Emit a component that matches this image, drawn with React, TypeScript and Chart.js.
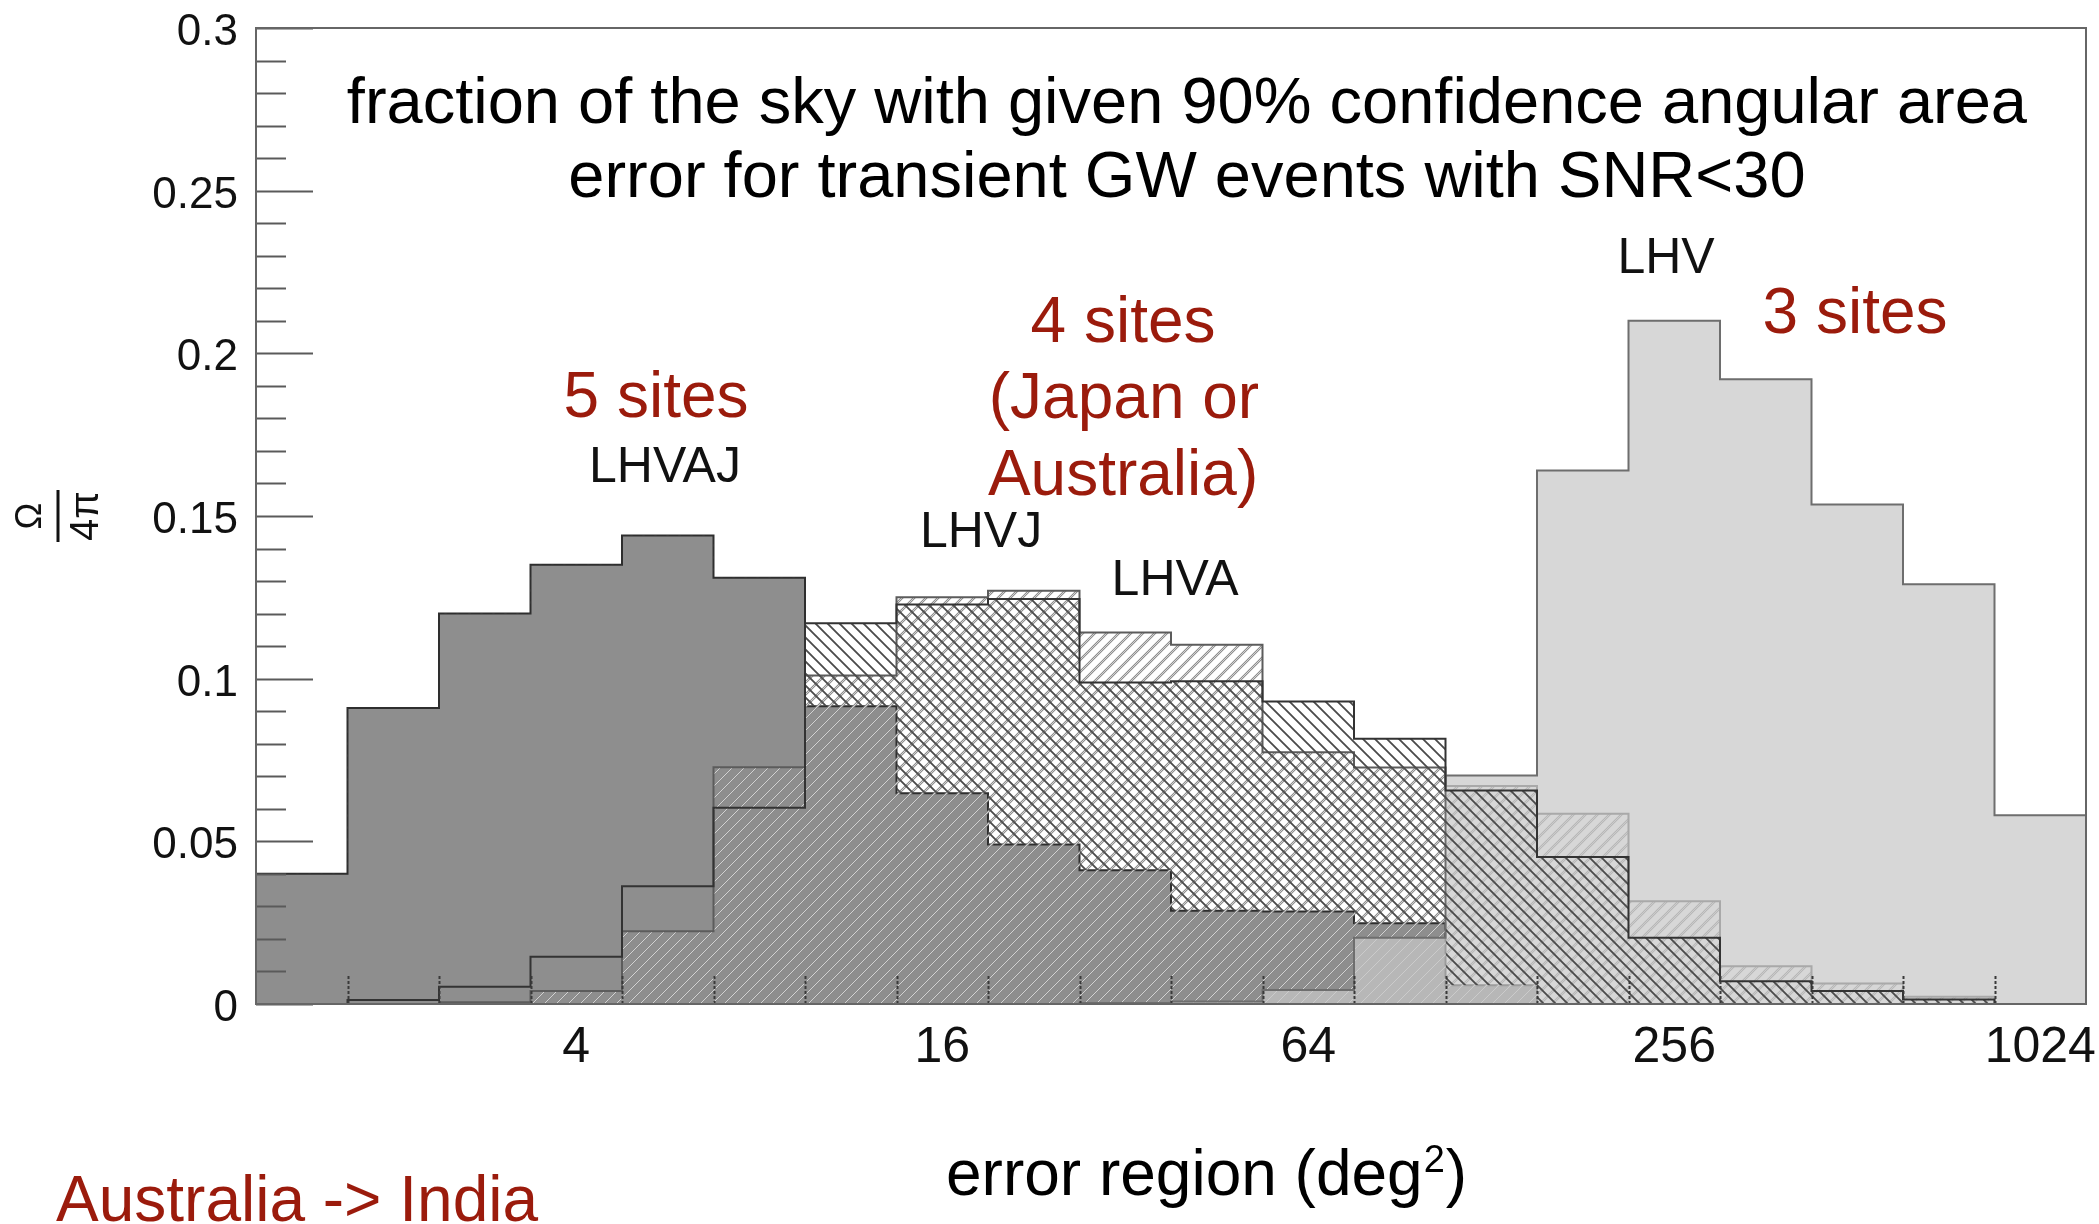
import React, { useEffect, useRef } from "react";
import { Chart, registerables } from "chart.js";

Chart.register(...registerables);

// Bin edges of the histogram, in log2(error region / deg^2)
const binEdgesLog2 = [
  0.25, 0.75, 1.25, 1.75, 2.25, 2.75, 3.25, 3.75, 4.25, 4.75, 5.25,
  5.75, 6.25, 6.75, 7.25, 7.75, 8.25, 8.75, 9.25, 9.75, 10.25,
];
const xTickLabels = [4, 16, 64, 256, 1024];
const yMajorTicks = [0, 0.05, 0.1, 0.15, 0.2, 0.25, 0.3];

// fraction of the sky per bin
const lhvajValues = [
  0.04, 0.091, 0.12, 0.135, 0.144, 0.131, 0.0915, 0.0648, 0.049, 0.0411,
  0.0287, 0.0284, 0.0248, 0.0058, 0, 0, 0, 0, 0, 0,
];
const lhvjValues = [
  0, 0.0012, 0.0053, 0.0145, 0.0362, 0.0603, 0.117, 0.1228, 0.1245, 0.0988,
  0.0992, 0.093, 0.0815, 0.0656, 0.0452, 0.0204, 0.007, 0.004, 0.0014, 0,
];
const lhvaValues = [
  0, 0, 0.0005, 0.004, 0.0224, 0.0728, 0.101, 0.125, 0.127, 0.1142,
  0.1104, 0.0774, 0.0727, 0.067, 0.0585, 0.0316, 0.0116, 0.0063, 0.0022, 0,
];
const lhvValues = [
  0, 0, 0, 0, 0, 0, 0, 0, 0, 0.0003,
  0.0008, 0.0043, 0.0204, 0.0702, 0.164, 0.21, 0.192, 0.1535, 0.129, 0.058,
];

const FONT = "'Liberation Sans', Arial, Helvetica, sans-serif";
const RED = "#9b1b0c";

type Note = { text: string; x: number; y: number; size: number; color: string };
// x in log2(deg^2), y in sky fraction (text baseline)
const plotNotes: Note[] = [
  { text: "fraction of the sky with given 90% confidence angular area", x: 5.337, y: 0.2708, size: 65, color: "#000" },
  { text: "error for transient GW events with SNR<30", x: 5.337, y: 0.2481, size: 65, color: "#000" },
  { text: "LHV", x: 7.955, y: 0.2247, size: 50, color: "#111" },
  { text: "3 sites", x: 8.988, y: 0.2063, size: 64, color: RED },
  { text: "5 sites", x: 2.436, y: 0.1804, size: 64, color: RED },
  { text: "LHVAJ", x: 2.485, y: 0.1605, size: 50, color: "#111" },
  { text: "4 sites", x: 4.988, y: 0.2035, size: 64, color: RED },
  { text: "(Japan or", x: 4.993, y: 0.1801, size: 64, color: RED },
  { text: "Australia)", x: 4.988, y: 0.1565, size: 64, color: RED },
  { text: "LHVJ", x: 4.212, y: 0.1405, size: 50, color: "#111" },
  { text: "LHVA", x: 5.272, y: 0.1257, size: 50, color: "#111" },
];

function toSteps(values: number[]) {
  return binEdgesLog2.map((e, i) => ({ x: e, y: values[Math.min(i, values.length - 1)] }));
}

function makeHatch(
  ctx: CanvasRenderingContext2D,
  forward: boolean,
  strokes: { color: string; width: number }[]
) {
  const s = 12;
  const c = document.createElement("canvas");
  c.width = s;
  c.height = s;
  const g = c.getContext("2d") as CanvasRenderingContext2D;
  for (const st of strokes) {
    g.strokeStyle = st.color;
    g.lineWidth = st.width;
    g.beginPath();
    if (forward) {
      g.moveTo(-2, s + 2);
      g.lineTo(s + 2, -2);
      g.moveTo(-2, 2);
      g.lineTo(2, -2);
      g.moveTo(s - 2, s + 2);
      g.lineTo(s + 2, s - 2);
    } else {
      g.moveTo(-2, -2);
      g.lineTo(s + 2, s + 2);
      g.moveTo(-2, s - 2);
      g.lineTo(2, s + 2);
      g.moveTo(s - 2, -2);
      g.lineTo(s + 2, 2);
    }
    g.stroke();
  }
  return ctx.createPattern(c, "repeat") as CanvasPattern;
}

const decorations = {
  id: "decorations",
  afterDatasetsDraw(chart: any) {
    const { ctx, chartArea: a, scales } = chart;
    const xs = scales.x;
    const ys = scales.y;
    ctx.save();
    // x tick marks at every bin edge
    ctx.strokeStyle = "#3a3a3a";
    ctx.lineWidth = 2;
    ctx.setLineDash([3, 2]);
    binEdgesLog2.slice(1, -1).forEach((e) => {
      const px = Math.round(xs.getPixelForValue(e)) + 0.5;
      ctx.beginPath();
      ctx.moveTo(px, a.bottom);
      ctx.lineTo(px, a.bottom - 30);
      ctx.stroke();
    });
    ctx.setLineDash([]);
    // y tick marks (inside)
    ctx.strokeStyle = "#5a5a5a";
    const tick = (v: number, len: number) => {
      const py = Math.round(ys.getPixelForValue(v)) + 0.5;
      ctx.beginPath();
      ctx.moveTo(a.left, py);
      ctx.lineTo(a.left + len, py);
      ctx.stroke();
    };
    for (let i = 0; i < yMajorTicks.length; i++) {
      tick(yMajorTicks[i], 57);
      if (i < yMajorTicks.length - 1) {
        const d = yMajorTicks[i + 1] - yMajorTicks[i];
        for (let j = 1; j < 5; j++) tick(yMajorTicks[i] + (d * j) / 5, 30);
      }
    }
    // frame
    ctx.strokeStyle = "#666";
    ctx.lineWidth = 2;
    ctx.strokeRect(a.left, a.top, a.right - a.left, a.bottom - a.top);
    ctx.restore();
  },
  afterDraw(chart: any) {
    const { ctx, scales } = chart;
    const xs = scales.x;
    const ys = scales.y;
    ctx.save();
    ctx.textBaseline = "alphabetic";
    for (const n of plotNotes) {
      ctx.font = `${n.size}px ${FONT}`;
      ctx.fillStyle = n.color;
      ctx.textAlign = "center";
      ctx.fillText(n.text, xs.getPixelForValue(n.x), ys.getPixelForValue(n.y));
    }
    // x axis title with superscript
    ctx.textAlign = "left";
    ctx.fillStyle = "#000";
    ctx.font = `64px ${FONT}`;
    let x = 946;
    const base = 1195;
    const part1 = "error region (deg";
    ctx.fillText(part1, x, base);
    x += ctx.measureText(part1).width;
    ctx.font = `38px ${FONT}`;
    ctx.fillText("2", x + 1, base - 23);
    x += ctx.measureText("2").width + 2;
    ctx.font = `64px ${FONT}`;
    ctx.fillText(")", x, base);
    // bottom-left note
    ctx.fillStyle = RED;
    ctx.font = `64px ${FONT}`;
    ctx.fillText("Australia -> India", 56, 1221);
    // y axis title: Omega / 4 pi, rotated
    ctx.translate(58, 516);
    ctx.rotate(-Math.PI / 2);
    ctx.fillStyle = "#111";
    ctx.textAlign = "center";
    ctx.font = `36px ${FONT}`;
    ctx.fillText("\u03A9", 0, -17);
    ctx.strokeStyle = "#111";
    ctx.lineWidth = 3;
    ctx.beginPath();
    ctx.moveTo(-26, 0);
    ctx.lineTo(26, 0);
    ctx.stroke();
    ctx.font = `40px ${FONT}`;
    ctx.fillText("4\u03C0", 0, 40);
    ctx.restore();
  },
};

export default function App() {
  const ref = useRef<HTMLCanvasElement | null>(null);

  useEffect(() => {
    const canvas = ref.current;
    if (!canvas) return;
    const ctx = canvas.getContext("2d") as CanvasRenderingContext2D;
    const hatchBack = makeHatch(ctx, false, [{ color: "#4a4a4a", width: 1.8 }]);
    const hatchFwd = makeHatch(ctx, true, [
      { color: "#8c8c8c", width: 2.4 },
      { color: "#d2d2d2", width: 1 },
    ]);

    const chart = new Chart(canvas, {
      type: "line",
      data: {
        datasets: [
          {
            label: "LHVJ",
            data: toSteps(lhvjValues),
            stepped: true,
            fill: { target: 3, above: hatchBack, below: "rgba(0,0,0,0)" },
            backgroundColor: hatchBack,
            borderColor: "#333",
            borderWidth: 2,
            pointRadius: 0,
            order: 0,
          },
          {
            label: "LHV",
            data: toSteps(lhvValues),
            stepped: true,
            fill: "origin",
            backgroundColor: "rgba(200,200,200,0.72)",
            borderColor: "#6e6e6e",
            borderWidth: 2,
            pointRadius: 0,
            order: 1,
          },
          {
            label: "LHVA",
            data: toSteps(lhvaValues),
            stepped: true,
            fill: "origin",
            backgroundColor: hatchFwd,
            borderColor: "#5c5c5c",
            borderWidth: 2,
            pointRadius: 0,
            order: 2,
          },
          {
            label: "LHVAJ",
            data: toSteps(lhvajValues),
            stepped: true,
            fill: "origin",
            backgroundColor: "#8e8e8e",
            borderColor: "#2e2e2e",
            borderWidth: 2,
            pointRadius: 0,
            order: 3,
          },
        ] as any,
      },
      options: {
        responsive: false,
        maintainAspectRatio: false,
        animation: false,
        devicePixelRatio: 1,
        events: [],
        layout: { padding: { top: 28, right: 13, left: 0, bottom: 0 } },
        plugins: {
          legend: { display: false },
          tooltip: { enabled: false },
          title: { display: false },
        },
        scales: {
          x: {
            type: "linear",
            min: binEdgesLog2[0],
            max: binEdgesLog2[binEdgesLog2.length - 1],
            afterBuildTicks: (s: any) => {
              s.ticks = xTickLabels.map((v) => ({ value: Math.log2(v) }));
            },
            afterFit: (s: any) => {
              s.height = 220;
            },
            ticks: {
              callback: (v: any) => String(Math.round(2 ** Number(v))),
              font: { family: FONT, size: 50 },
              color: "#111",
              padding: 0,
              maxRotation: 0,
              autoSkip: false,
            },
            grid: { display: false, drawTicks: true, tickLength: 14 },
            border: { display: false },
          },
          y: {
            type: "linear",
            min: 0,
            max: 0.3,
            afterBuildTicks: (s: any) => {
              s.ticks = yMajorTicks.map((v) => ({ value: v }));
            },
            afterFit: (s: any) => {
              s.width = 256;
            },
            ticks: {
              callback: (v: any) => String(Number(Number(v).toFixed(2))),
              font: { family: FONT, size: 44 },
              color: "#111",
              padding: 0,
              labelOffset: 5,
            },
            grid: { display: false, drawTicks: true, tickLength: 18 },
            border: { display: false },
          },
        },
      } as any,
      plugins: [decorations],
    });
    return () => chart.destroy();
  }, []);

  return (
    <div
      style={{
        position: "absolute",
        left: 0,
        top: 0,
        width: 2099,
        height: 1224,
        background: "#fff",
      }}
    >
      <canvas ref={ref} width={2099} height={1224} style={{ display: "block", width: 2099, height: 1224 }} />
    </div>
  );
}
